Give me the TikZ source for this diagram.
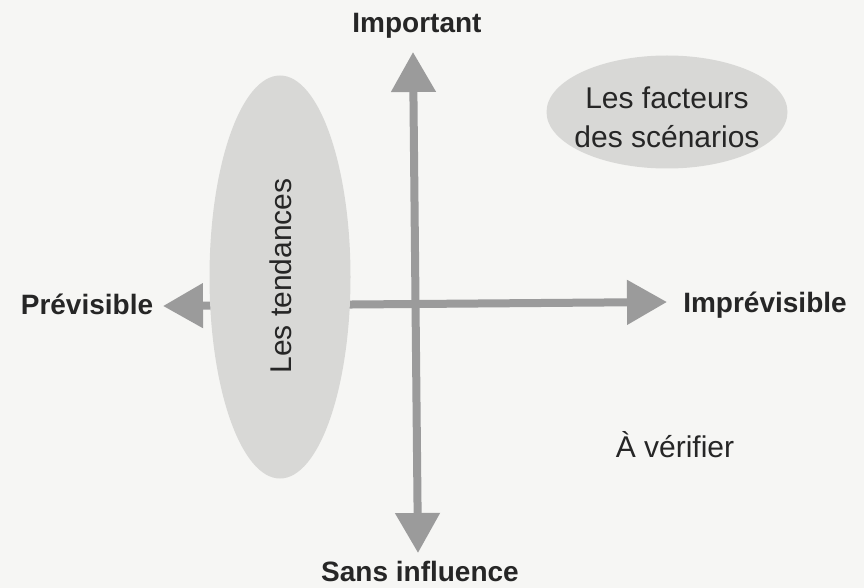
\documentclass[tikz,border=0pt]{standalone}
\usepackage{fontspec}
\setmainfont{Liberation Sans}
\usetikzlibrary{arrows.meta,shapes.geometric}
\definecolor{bg}{RGB}{246,246,244}
\definecolor{arrowgray}{RGB}{155,155,155}
\definecolor{ellgray}{RGB}{216,216,214}
\definecolor{ink}{RGB}{38,38,38}
\begin{document}
\begin{tikzpicture}[x=1pt,y=-1pt,
  axis/.style={draw=arrowgray, line width=8pt,
    {Triangle[length=40pt,width=43pt]}-{Triangle[length=40pt,width=43pt]}},
  blob/.style={ellipse, fill=ellgray, inner sep=0pt},
  boldlabel/.style={font=\fontsize{28}{30}\selectfont\bfseries, text=ink, inner sep=0pt, anchor=base},
  plainlabel/.style={font=\fontsize{30}{39}\selectfont, text=ink, inner sep=0pt},
]
\fill[bg] (0,0) rectangle (864,588);
\useasboundingbox (0,0) rectangle (864,588);
% axes end points
\coordinate (hL) at (163,306);
\coordinate (hR) at (667,302);
\coordinate (vT) at (413,52);
\coordinate (vB) at (418,553);
% horizontal axis (behind the trend ellipse)
\draw[axis] (hL) -- (hR);
% trend ellipse
\node[blob, minimum width=141pt, minimum height=403pt] (tend) at (280,277) {};
\node[plainlabel, rotate=90] (tendtxt) at (281,276) {Les tendances};
% vertical axis
\draw[axis] (vT) -- (vB);
% scenario factors ellipse
\node[blob, minimum width=241pt, minimum height=113pt] (fact) at (667,112) {};
\node[plainlabel, align=center] (facttxt) at (667,117) {Les facteurs\\des scénarios};
% axis labels
\node[boldlabel] (imp) at (417,33) {Important};
\node[boldlabel] (prev) at (87,314) {Prévisible};
\node[boldlabel] (imprev) at (765,312) {Imprévisible};
\node[boldlabel] (sans) at (420,581) {Sans influence};
\node[plainlabel, anchor=base] (verif) at (675,457) {À vérifier};
\end{tikzpicture}
\end{document}
